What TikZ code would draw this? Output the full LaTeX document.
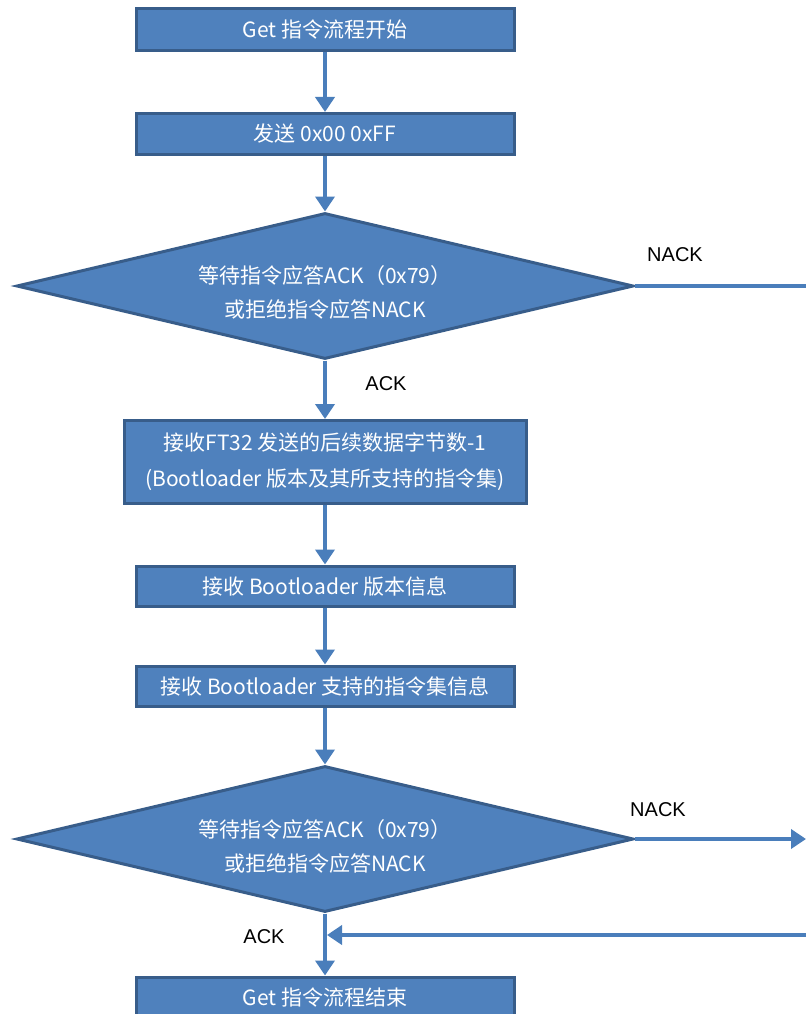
\documentclass[tikz,border=0pt]{standalone}
\usepackage{fontspec}
\newfontfamily\cjk{Noto Sans CJK SC}
\newfontfamily\arialf{Liberation Sans}
\usetikzlibrary{shapes.geometric,arrows.meta}
\definecolor{boxfill}{HTML}{4F81BD}
\definecolor{boxline}{HTML}{385D8A}
\definecolor{conn}{HTML}{4A7EBB}
\tikzset{
  stepbox/.style={draw=boxline, fill=boxfill, line width=3pt, text=white, font=\cjk\fontsize{21}{25}\selectfont, inner sep=0pt, align=center},
  decide/.style={diamond, draw=boxline, fill=boxfill, line width=3pt, inner sep=0pt, minimum width=617pt, minimum height=146pt},
  dtext/.style={text=white, font=\cjk\fontsize{21}{34}\selectfont, inner sep=0pt, align=center},
  flow/.style={draw=conn, line width=4pt, -{Triangle[width=19pt,length=15pt]}},
  plain/.style={draw=conn, line width=4pt},
  lab/.style={font=\arialf\fontsize{20}{24}\selectfont, text=black, inner sep=0pt}
}
\begin{document}
\begin{tikzpicture}[x=1pt,y=-1pt]
\useasboundingbox (0,0) rectangle (806,1014);
\clip (0,0) rectangle (806,1014);
\node[stepbox, minimum width=378pt, minimum height=42pt] (b1) at (325,30) {Get 指令流程开始};
\node[stepbox, minimum width=378pt, minimum height=41pt] (b2) at (325,134) {发送 0x00 0xFF};
\node[decide] (d1) at (325,286) {};
\node[dtext] (t1) at (325,292) {等待指令应答ACK（0x79）\\或拒绝指令应答NACK};
\node[stepbox, minimum width=402pt, minimum height=83pt, font=\cjk\fontsize{21}{36}\selectfont] (b3) at (325,462) {接收FT32 发送的后续数据字节数-1\\(Bootloader 版本及其所支持的指令集)};
\node[stepbox, minimum width=378pt, minimum height=40pt] (b4) at (325,586) {接收 Bootloader 版本信息};
\node[stepbox, minimum width=378pt, minimum height=40pt] (b5) at (325,686) {接收 Bootloader 支持的指令集信息};
\node[decide] (d2) at (325,839) {};
\node[dtext] (t2) at (325,846) {等待指令应答ACK（0x79）\\或拒绝指令应答NACK};
\node[stepbox, minimum width=378pt, minimum height=42pt] (b6) at (325,998) {Get 指令流程结束};
\coordinate (r1) at (806,286);
\coordinate (r2) at (806,839);
\coordinate (r3) at (806,935);
\coordinate (j) at (327,935);
\draw[flow] (b1) -- (b2);
\draw[flow] (b2) -- (d1);
\draw[flow] (d1) -- (b3);
\draw[flow] (b3) -- (b4);
\draw[flow] (b4) -- (b5);
\draw[flow] (b5) -- (d2);
\draw[flow] (d2) -- (b6);
\draw[plain] (d1.east) -- (r1);
\draw[flow] (d2.east) -- (r2);
\draw[flow] (r3) -- (j);
\node[lab] (n1) at (675,255) {NACK};
\node[lab] (a1) at (386,384) {ACK};
\node[lab] (n2) at (658,810) {NACK};
\node[lab] (a2) at (264,937) {ACK};
\end{tikzpicture}
\end{document}
